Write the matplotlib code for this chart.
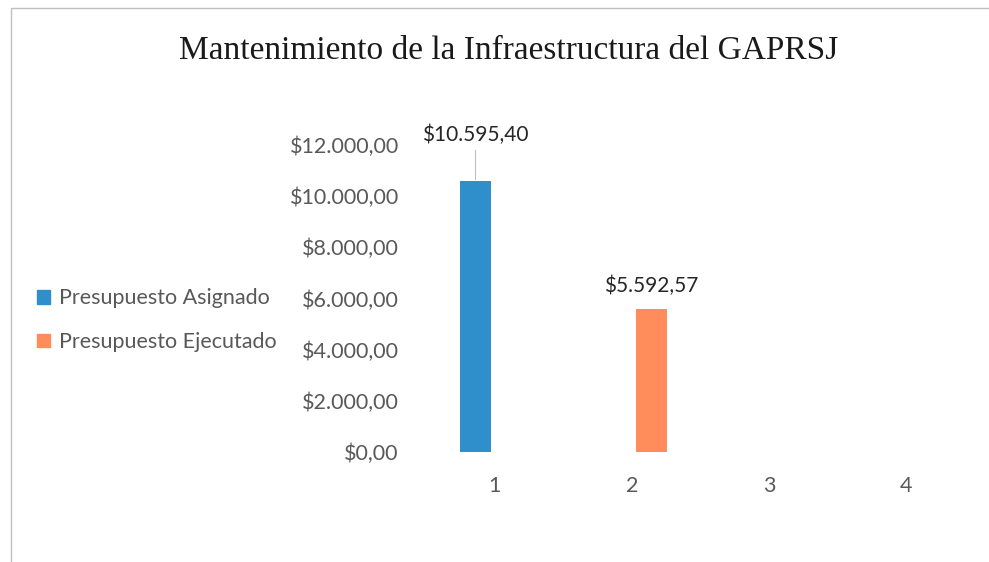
## Imports required libraries.
import numpy as np
import matplotlib.pyplot as plt
from matplotlib.patches import Patch, Rectangle


## Chart data.
categories = [1, 2, 3, 4]
asignado   = [10595.40, np.nan, np.nan, np.nan]
ejecutado  = [np.nan, 5592.57, np.nan, np.nan]
series     = ['Presupuesto Asignado', 'Presupuesto Ejecutado']
yticks     = [0, 2000, 4000, 6000, 8000, 10000, 12000]
title      = 'Mantenimiento de la Infraestructura del GAPRSJ'

blue   = '#2E8FCB'
orange = '#FF8C5A'
gray   = '#595959'
font   = 'Lato'


## Formats a number the Spanish Excel way: $10.595,40
def pesos( v ):
	s = '{:,.2f}'.format(v)
	s = s.replace(',', 'X').replace('.', ',').replace('X', '.')
	return '$' + s


fig = plt.figure( figsize=(9.89, 5.62), dpi=100 )
fig.patches.append( Rectangle( (0.011, -0.02), 1.2, 1.005, transform=fig.transFigure,
                               fill=False, edgecolor='#BFBFBF', lw=1.0 ) )
ax = fig.add_axes( [0.4312, 0.1957, 0.5541, 0.5463] )

x = np.array(categories, dtype=float)
w = 0.226
off = 0.142
ax.bar( x - off, asignado,  w, color=blue )
ax.bar( x + off, ejecutado, w, color=orange )

ax.set_xlim( 0.5, 4.5 )
ax.set_ylim( 0, 12000 )
ax.set_xticks( categories )
ax.set_yticks( yticks )
ax.set_yticklabels( [pesos(v) for v in yticks] )
for s in ax.spines.values():
	s.set_visible(False)
ax.tick_params( length=0, colors=gray, labelsize=15.5 )
ax.tick_params( axis='y', pad=20 )
ax.tick_params( axis='x', pad=17 )
for t in ax.get_xticklabels() + ax.get_yticklabels():
	t.set_fontfamily(font)

## Data labels.
ax.annotate( pesos(asignado[0]), xy=(x[0] - off, asignado[0]), xytext=(0, 26),
             textcoords='offset points', ha='center', va='bottom', fontsize=15,
             family=font, color='#262626',
             arrowprops=dict(arrowstyle='-', color='#BFBFBF', lw=0.8, shrinkA=2, shrinkB=1) )
ax.annotate( pesos(ejecutado[1]), xy=(x[1] + off, ejecutado[1]), xytext=(0, 9),
             textcoords='offset points', ha='center', va='bottom', fontsize=15,
             family=font, color='#262626' )

## Legend on the left.
handles = [ Patch(color=blue, label=series[0]), Patch(color=orange, label=series[1]) ]
leg = fig.legend( handles=handles, loc='center left', bbox_to_anchor=(0.018, 0.43),
                  frameon=False, handlelength=0.6, handleheight=0.6, handletextpad=0.4,
                  labelspacing=1.1, prop={'family': font, 'size': 15.5} )
for t in leg.get_texts():
	t.set_color(gray)

fig.text( 0.514, 0.91, title, ha='center', va='center', fontsize=24,
          family='Liberation Serif', color='#1a1a1a' )

plt.savefig( 'out.png', dpi=100 )
